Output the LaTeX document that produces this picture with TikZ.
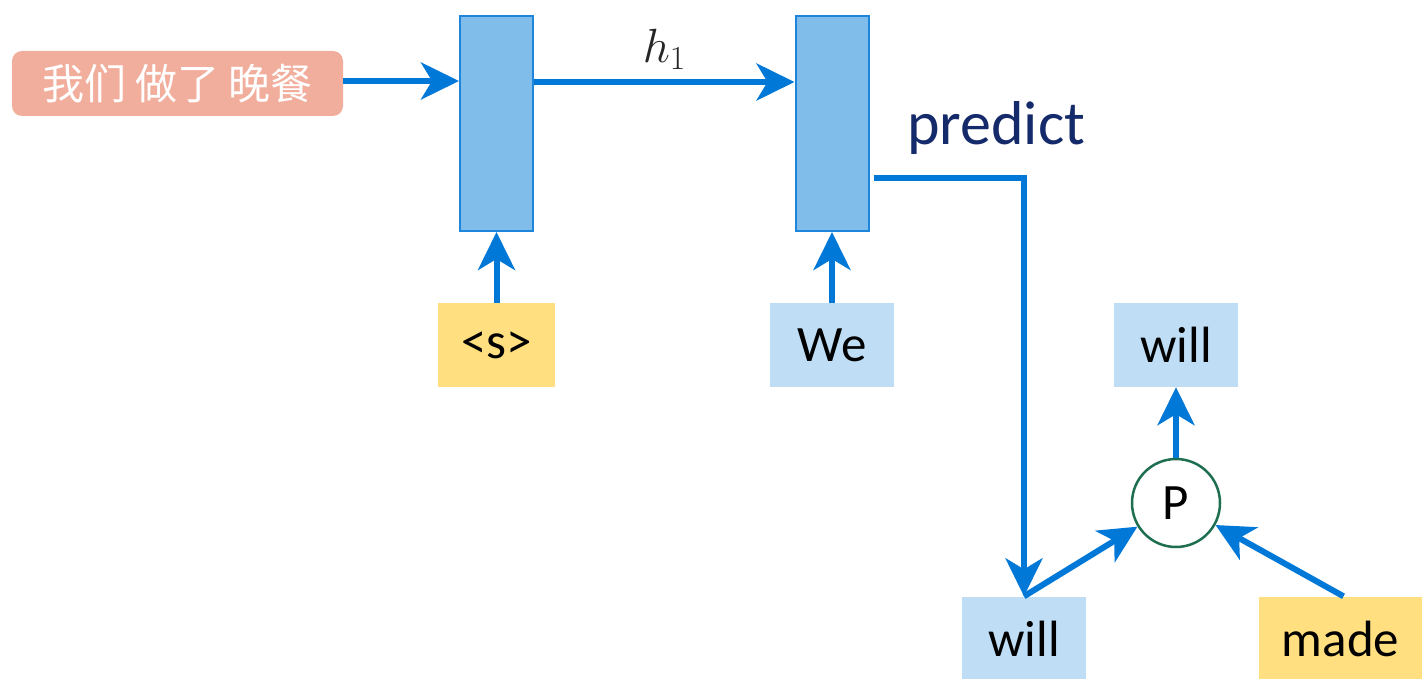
\RequirePackage{fix-cm}
\documentclass[tikz,border=0pt]{standalone}
\usepackage{fontspec}
\setmainfont{Carlito}
\newfontfamily\cjk{Noto Sans CJK SC}
\usetikzlibrary{arrows.meta}
\definecolor{arrowblue}{HTML}{0078D7}
\definecolor{rectfill}{HTML}{80BDEB}
\definecolor{rectline}{HTML}{1F85DA}
\definecolor{lblue}{HTML}{BFDEF5}
\definecolor{lyellow}{HTML}{FFDF80}
\definecolor{salmon}{HTML}{F2AE9C}
\definecolor{navy}{HTML}{142A6A}
\definecolor{pgreen}{HTML}{1E6E50}
\tikzset{
  conn/.style={draw=arrowblue, line width=6pt, -{Stealth[length=38pt,width=37pt,inset=11pt]}},
  cell/.style={draw=rectline, line width=2pt, fill=rectfill, minimum width=73pt, minimum height=215pt, inner sep=0pt},
  word/.style={minimum height=84pt, inner sep=0pt, font=\fontsize{51}{58}\selectfont, text=black},
  bword/.style={word, fill=lblue, minimum width=124pt},
  yword/.style={word, fill=lyellow},
}
\begin{document}
\begin{tikzpicture}[x=1pt,y=-1pt]
\useasboundingbox (0,0) rectangle (1422,679);
\node[fill=salmon, rounded corners=10pt, minimum width=331pt, minimum height=65pt, inner sep=0pt, text=white, font=\cjk\fontsize{42}{48}\selectfont] (src) at (177.5,83.5) {我们 做了 晚餐};
\node[cell] (r1) at (496.5,123.5) {};
\node[cell] (r2) at (832,123.5) {};
\node[yword, minimum width=117pt] (s) at (496.5,345) {<s>};
\node[bword] (we) at (832,345) {We};
\node[bword] (willb) at (1024,638.5) {will};
\node[yword, minimum width=163pt] (made) at (1340.5,638.5) {made};
\node[bword, minimum width=124pt] (willt) at (1176,345) {will};
\node[circle, draw=pgreen, line width=2.5pt, fill=white, minimum size=88pt, inner sep=0pt, font=\fontsize{51}{58}\selectfont] (P) at (1176,503) {P};
\node[font=\fontsize{62}{70}\selectfont, text=navy] (pred) at (996,128) {predict};
\draw[conn] (src.east |- 0,81) -- (r1.west |- 0,81);
\draw[conn] (r1.east |- 0,82) -- node[above=6pt, font=\fontsize{48}{54}\selectfont, text=black!85] (h1) {$h_1$} (r2.west |- 0,82);
\draw[conn] (s.north) -- (r1.south);
\draw[conn] (we.north) -- (r2.south);
\draw[conn] ([xshift=4pt,yshift=-55pt]r2.east) -| (willb.north);
\draw[conn] (willb.north) -- (P);
\draw[conn] ([xshift=3pt]made.north) -- (P);
\draw[conn] (P.north) -- (willt.south);
\end{tikzpicture}
\end{document}
